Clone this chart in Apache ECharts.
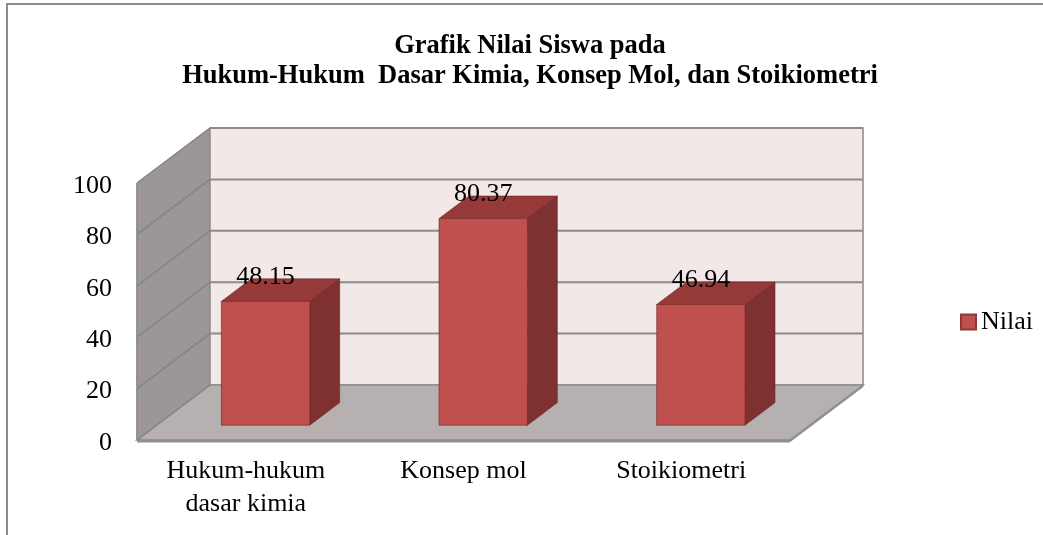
<!DOCTYPE html>
<html>
<head>
<meta charset="utf-8">
<script src="https://cdn.jsdelivr.net/npm/echarts@6/dist/echarts.min.js"></script>
</head>
<body style="margin:0;background:#fff">
<div id="main" style="width:1043px;height:535px;"></div>
<script>
var categories = ['Hukum-hukum\ndasar kimia', 'Konsep mol', 'Stoikiometri'];
var nilai = [48.15, 80.37, 46.94];
var yTicks = [0, 20, 40, 60, 80, 100];

// fake 3d depth in pixels, bars sit in the middle of the floor
var DX = 73, DY = -55;
var F0 = 0.27, F1 = 0.68;
var BAR = 0.406;
var serif = '"Liberation Serif", "Times New Roman", serif';

var myChart = echarts.init(document.getElementById('main'));

function renderWalls(params, api) {
  var cs = params.coordSys;
  var x0 = cs.x, x1 = cs.x + cs.width;
  var yb = api.coord([0, 0])[1];
  var yt = api.coord([0, 100])[1];
  var kids = [];
  // left wall
  kids.push({type: 'polygon', shape: {points: [[x0, yb], [x0 + DX, yb + DY], [x0 + DX, yt + DY], [x0, yt]]},
    style: {fill: '#9c9696', stroke: '#8a8a8a', lineWidth: 1}});
  // back wall
  kids.push({type: 'polygon', shape: {points: [[x0 + DX, yb + DY], [x1 + DX, yb + DY], [x1 + DX, yt + DY], [x0 + DX, yt + DY]]},
    style: {fill: '#f3e8e8', stroke: '#8a8a8a', lineWidth: 1.5}});
  // floor
  kids.push({type: 'polygon', shape: {points: [[x0, yb], [x1, yb], [x1 + DX, yb + DY], [x0 + DX, yb + DY]]},
    style: {fill: '#b7b0b0', stroke: '#8e8e8e', lineWidth: 1.5}});
  for (var i = 0; i < yTicks.length; i++) {
    var y = api.coord([0, yTicks[i]])[1];
    kids.push({type: 'line', shape: {x1: x0, y1: y, x2: x0 + DX, y2: y + DY},
      style: {stroke: '#858585', lineWidth: 1.5}});
    if (i > 0) {
      kids.push({type: 'line', shape: {x1: x0 + DX, y1: y + DY, x2: x1 + DX, y2: y + DY},
        style: {stroke: '#8c8c8c', lineWidth: 2}});
    }
  }
  // front edge of floor
  kids.push({type: 'line', shape: {x1: x0, y1: yb + 1, x2: x1, y2: yb + 1},
    style: {stroke: '#8f8f8f', lineWidth: 3}});
  kids.push({type: 'line', shape: {x1: x1, y1: yb + 1, x2: x1 + DX, y2: yb + DY + 1},
    style: {stroke: '#8f8f8f', lineWidth: 2}});
  kids.push({type: 'line', shape: {x1: x0, y1: yb, x2: x0, y2: yt},
    style: {stroke: '#8a8a8a', lineWidth: 1.5}});
  return {type: 'group', children: kids};
}

function renderBar(params, api) {
  var i = api.value(0), v = api.value(1);
  var top = api.coord([i, v]);
  var base = api.coord([i, 0]);
  var w = api.size([1, 0])[0] * BAR;
  var l = top[0] - w / 2 + DX * F0, r = l + w;
  var yb = base[1] + DY * F0, yt = top[1] + DY * F0;
  var ex = DX * (F1 - F0), ey = DY * (F1 - F0);
  var edge = 'rgba(110,35,35,0.6)';
  return {type: 'group', children: [
    {type: 'polygon', shape: {points: [[r, yt], [r, yb], [r + ex, yb + ey], [r + ex, yt + ey]]},
      style: {fill: '#7e3130', stroke: edge, lineWidth: 1}},
    {type: 'polygon', shape: {points: [[l, yt], [r, yt], [r + ex, yt + ey], [l + ex, yt + ey]]},
      style: {fill: '#953a39', stroke: edge, lineWidth: 1}},
    {type: 'rect', shape: {x: l, y: yt, width: w, height: yb - yt},
      style: {fill: '#c0504d', stroke: edge, lineWidth: 1}},
    {type: 'text', x: l + w / 2, y: yt - 24,
      style: {text: v.toFixed(2), fill: '#000', font: '26px ' + serif, align: 'center', verticalAlign: 'middle'}}
  ]};
}

var option = {
  animation: false,
  title: {
    text: 'Grafik Nilai Siswa pada\nHukum-Hukum  Dasar Kimia, Konsep Mol, dan Stoikiometri',
    left: 530, top: 31, padding: 0, textAlign: 'center',
    textStyle: {fontFamily: serif, fontWeight: 'bold', fontSize: 26.5, lineHeight: 30, color: '#000'}
  },
  legend: {
    data: ['Nilai'], left: 955, top: 304, itemWidth: 15, itemHeight: 15, itemGap: 5,
    icon: 'rect',
    textStyle: {fontFamily: serif, fontSize: 26, color: '#000'}
  },
  graphic: [{type: 'rect', shape: {x: 7, y: 4, width: 1100, height: 600},
    style: {fill: null, stroke: '#8c8c8c', lineWidth: 2}, silent: true}],
  grid: {left: 137, right: 253, top: 183, bottom: 95},
  xAxis: {
    type: 'category', data: categories,
    axisLine: {show: false}, axisTick: {show: false},
    axisLabel: {margin: 15, fontFamily: serif, fontSize: 26, lineHeight: 33, color: '#000'}
  },
  yAxis: {
    type: 'value', min: 0, max: 100, interval: 20,
    axisLine: {show: false}, axisTick: {show: false}, splitLine: {show: false},
    axisLabel: {margin: 25, verticalAlign: 'top', lineHeight: 6, fontFamily: serif, fontSize: 26, color: '#000'}
  },
  series: [
    {type: 'custom', name: 'walls', renderItem: renderWalls, data: [[0, 0]], z: 1, silent: true},
    {type: 'custom', name: 'Nilai', renderItem: renderBar, z: 2,
      itemStyle: {color: '#c0504d', borderColor: '#8c3836', borderWidth: 1},
      encode: {x: 0, y: 1},
      data: nilai.map(function (v, i) { return [i, v]; })}
  ]
};

myChart.setOption(option);
</script>
</body>
</html>
